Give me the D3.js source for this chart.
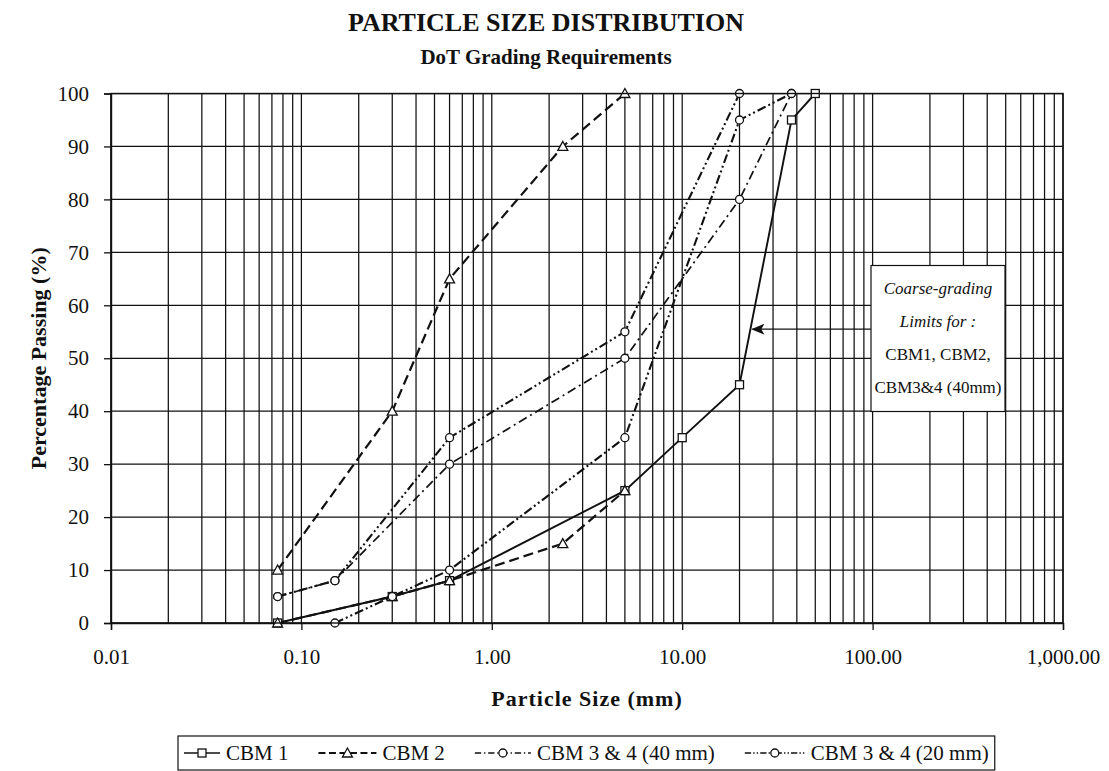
<!DOCTYPE html>
<html>
<head>
<meta charset="utf-8">
<script src="https://cdnjs.cloudflare.com/ajax/libs/d3/7.8.5/d3.min.js"></script>
<style>
  body { margin: 0; background: #fff; }
  svg { font-family: "Liberation Serif", "Times New Roman", serif; }
</style>
</head>
<body>
<script>
// Sieve sizes (mm) and % passing
var cbm1Sizes = [0.075, 0.3, 0.6, 5, 10, 20, 37.5, 50];
var cbm1Pass  = [0, 5, 8, 25, 35, 45, 95, 100];

var cbm2UpperSizes = [0.075, 0.3, 0.6, 2.36, 5];
var cbm2UpperPass  = [10, 40, 65, 90, 100];
var cbm2LowerSizes = [0.075, 0.3, 0.6, 2.36, 5];
var cbm2LowerPass  = [0, 5, 8, 15, 25];

var cbm40UpperSizes = [0.075, 0.15, 0.6, 5, 20, 37.5];
var cbm40UpperPass  = [5, 8, 30, 50, 80, 100];

var cbm20UpperSizes = [0.075, 0.15, 0.6, 5, 20];
var cbm20UpperPass  = [5, 8, 35, 55, 100];
var cbm20LowerSizes = [0.15, 0.3, 0.6, 5, 20, 37.5];
var cbm20LowerPass  = [0, 5, 10, 35, 95, 100];

var seriesNames = ["CBM 1", "CBM 2", "CBM 3 & 4 (40 mm)", "CBM 3 & 4 (20 mm)"];
var xTickValues = [0.01, 0.1, 1, 10, 100, 1000];
var yTickValues = [0, 10, 20, 30, 40, 50, 60, 70, 80, 90, 100];
var noteLines = ["Coarse-grading", "Limits for :", "CBM1, CBM2,", "CBM3&4 (40mm)"];
var arrowPass = 55.5;

// SVG area
var svgWidth = 1109;
var svgHeight = 771;

var chartMargin = { top: 93.5, right: 46, bottom: 148, left: 111 };
var chartWidth = svgWidth - chartMargin.left - chartMargin.right;
var chartHeight = svgHeight - chartMargin.top - chartMargin.bottom;

var svg = d3.select("body")
    .append("svg")
    .attr("width", svgWidth)
    .attr("height", svgHeight);

var chartGroup = svg.append("g")
    .attr("transform", `translate(${chartMargin.left}, ${chartMargin.top})`);

var xScale = d3.scaleLog()
    .domain([0.01, 1000])
    .range([0, chartWidth]);

var yScale = d3.scaleLinear()
    .domain([0, 100])
    .range([chartHeight, 0]);

// log gridlines 1..9 per decade
var gridX = [];
for (var e = -2; e < 3; e++) {
    for (var m = 1; m < 10; m++) gridX.push(m * Math.pow(10, e));
}
gridX.push(1000);

chartGroup.selectAll("line.vgrid")
    .data(gridX)
    .enter()
    .append("line")
    .attr("class", "vgrid")
    .attr("x1", d => xScale(d))
    .attr("x2", d => xScale(d))
    .attr("y1", 0)
    .attr("y2", chartHeight)
    .attr("stroke", "#111")
    .attr("stroke-width", 1.25);

chartGroup.selectAll("line.hgrid")
    .data(yTickValues)
    .enter()
    .append("line")
    .attr("class", "hgrid")
    .attr("x1", 0)
    .attr("x2", chartWidth)
    .attr("y1", d => yScale(d))
    .attr("y2", d => yScale(d))
    .attr("stroke", "#111")
    .attr("stroke-width", 1.25);

// axes
var xAxis = d3.axisBottom(xScale)
    .tickValues(xTickValues)
    .tickFormat(d3.format(",.2f"))
    .tickSize(7)
    .tickPadding(19);

var yAxis = d3.axisLeft(yScale)
    .tickValues(yTickValues)
    .tickSize(7)
    .tickPadding(15);

var xAxisGroup = chartGroup.append("g")
    .attr("transform", `translate(0, ${chartHeight})`)
    .call(xAxis);

var yAxisGroup = chartGroup.append("g")
    .call(yAxis);

[xAxisGroup, yAxisGroup].forEach(function(g) {
    g.select(".domain").attr("stroke", "#111").attr("stroke-width", 1.4);
    g.selectAll(".tick line").attr("stroke", "#111").attr("stroke-width", 1.3);
    g.selectAll(".tick text")
        .attr("font-family", "Liberation Serif")
        .attr("font-size", "21px")
        .attr("fill", "#111");
});

// series
var lineGen = d3.line()
    .x(d => xScale(d[0]))
    .y(d => yScale(d[1]));

var series = [
    { name: seriesNames[0], shape: "square", dash: null, width: 1.9,
      parts: [d3.zip(cbm1Sizes, cbm1Pass)] },
    { name: seriesNames[1], shape: "triangle", dash: "10,5", width: 2.2,
      parts: [d3.zip(cbm2UpperSizes, cbm2UpperPass), d3.zip(cbm2LowerSizes, cbm2LowerPass)] },
    { name: seriesNames[2], shape: "circle", dash: "9,4,2,4", width: 1.7,
      parts: [d3.zip(cbm40UpperSizes, cbm40UpperPass)] },
    { name: seriesNames[3], shape: "circle", dash: "9,3,2,3,2,3", width: 2.1,
      parts: [d3.zip(cbm20UpperSizes, cbm20UpperPass), d3.zip(cbm20LowerSizes, cbm20LowerPass)] }
];

function drawMarker(g, shape, cx, cy) {
    if (shape === "square") {
        g.append("rect")
            .attr("x", cx - 4).attr("y", cy - 4)
            .attr("width", 8).attr("height", 8)
            .attr("fill", "#fff").attr("stroke", "#111").attr("stroke-width", 1.3);
    } else if (shape === "triangle") {
        g.append("path")
            .attr("d", `M${cx},${cy - 5}L${cx + 5},${cy + 4}L${cx - 5},${cy + 4}Z`)
            .attr("fill", "#fff").attr("stroke", "#111").attr("stroke-width", 1.3);
    } else {
        g.append("circle")
            .attr("cx", cx).attr("cy", cy).attr("r", 4)
            .attr("fill", "#fff").attr("stroke", "#111").attr("stroke-width", 1.3);
    }
}

series.forEach(function(s) {
    s.parts.forEach(function(pts) {
        chartGroup.append("path")
            .datum(pts)
            .attr("d", lineGen)
            .attr("fill", "none")
            .attr("stroke", "#111")
            .attr("stroke-width", s.width)
            .attr("stroke-dasharray", s.dash);
    });
});

series.forEach(function(s) {
    var mg = chartGroup.append("g");
    s.parts.forEach(function(pts) {
        pts.forEach(function(p) {
            drawMarker(mg, s.shape, xScale(p[0]), yScale(p[1]));
        });
    });
});

// frame
chartGroup.append("rect")
    .attr("width", chartWidth)
    .attr("height", chartHeight)
    .attr("fill", "none")
    .attr("stroke", "#111")
    .attr("stroke-width", 1.4);

// annotation: arrow to the steep part of CBM 1 (between 20 and 37.5 mm)
var i0 = cbm1Pass.findIndex(p => p >= arrowPass) - 1;
var t = (arrowPass - cbm1Pass[i0]) / (cbm1Pass[i0 + 1] - cbm1Pass[i0]);
var tipSize = Math.pow(10, Math.log10(cbm1Sizes[i0]) + t * (Math.log10(cbm1Sizes[i0 + 1]) - Math.log10(cbm1Sizes[i0])));
var tipX = xScale(tipSize) + 2;
var tipY = yScale(arrowPass);

var boxX = 760, boxY = 172, boxW = 134, boxH = 146;

svg.append("defs").append("marker")
    .attr("id", "arrowhead")
    .attr("viewBox", "0 0 12 10")
    .attr("refX", 11).attr("refY", 5)
    .attr("markerWidth", 14).attr("markerHeight", 11)
    .attr("markerUnits", "userSpaceOnUse")
    .attr("orient", "auto")
    .append("path")
    .attr("d", "M0,0L12,5L0,10L3,5Z")
    .attr("fill", "#111");

chartGroup.append("line")
    .attr("x1", boxX).attr("y1", tipY)
    .attr("x2", tipX).attr("y2", tipY)
    .attr("stroke", "#111")
    .attr("stroke-width", 1.3)
    .attr("marker-end", "url(#arrowhead)");

chartGroup.append("rect")
    .attr("x", boxX).attr("y", boxY)
    .attr("width", boxW).attr("height", boxH)
    .attr("fill", "#fff")
    .attr("stroke", "#111")
    .attr("stroke-width", 1.2);

var noteText = chartGroup.append("text")
    .attr("text-anchor", "middle")
    .attr("font-size", "17px")
    .attr("fill", "#111");

noteLines.forEach(function(line, i) {
    var ts = noteText.append("tspan")
        .attr("x", boxX + boxW / 2)
        .attr("y", boxY + 28 + i * 33)
        .text(line);
    if (i < 2) ts.attr("font-style", "italic");
});

// titles
svg.append("text")
    .attr("x", 546)
    .attr("y", 31)
    .attr("text-anchor", "middle")
    .attr("font-size", "26px")
    .attr("font-weight", "bold")
    .attr("fill", "#111")
    .text("PARTICLE SIZE DISTRIBUTION");

svg.append("text")
    .attr("x", 546)
    .attr("y", 64)
    .attr("text-anchor", "middle")
    .attr("font-size", "21px")
    .attr("font-weight", "bold")
    .attr("fill", "#111")
    .text("DoT Grading Requirements");

chartGroup.append("text")
    .attr("x", chartWidth / 2)
    .attr("y", chartHeight + 83)
    .attr("text-anchor", "middle")
    .attr("font-size", "22px")
    .attr("font-weight", "bold")
    .attr("letter-spacing", "1px")
    .attr("fill", "#111")
    .text("Particle Size (mm)");

chartGroup.append("text")
    .attr("transform", "rotate(-90)")
    .attr("x", -chartHeight / 2)
    .attr("y", -65)
    .attr("text-anchor", "middle")
    .attr("font-size", "22px")
    .attr("font-weight", "bold")
    .attr("fill", "#111")
    .text("Percentage Passing (%)");

// legend
var legendX = 178, legendY = 736, legendH = 34;
var legend = svg.append("g");
var legendFrame = legend.append("rect")
    .attr("x", legendX).attr("y", legendY)
    .attr("height", legendH)
    .attr("fill", "#fff")
    .attr("stroke", "#111")
    .attr("stroke-width", 1.2);

var sampleLens = [36, 58, 56, 60];
var cursor = legendX + 6;
series.forEach(function(s, i) {
    var cy = legendY + legendH / 2;
    legend.append("line")
        .attr("x1", cursor).attr("x2", cursor + sampleLens[i])
        .attr("y1", cy).attr("y2", cy)
        .attr("stroke", "#111")
        .attr("stroke-width", s.width * 0.8)
        .attr("stroke-dasharray", s.dash ? s.dash.split(",").map(v => v * 0.7).join(",") : null);
    drawMarker(legend, s.shape, cursor + sampleLens[i] / 2, cy);
    var txt = legend.append("text")
        .attr("x", cursor + sampleLens[i] + 6)
        .attr("y", cy + 7)
        .attr("font-size", "21px")
        .attr("fill", "#111")
        .text(s.name);
    cursor += sampleLens[i] + 6 + txt.node().getComputedTextLength() + 30;
});
legendFrame.attr("width", cursor - 24 - legendX);
</script>
</body>
</html>
